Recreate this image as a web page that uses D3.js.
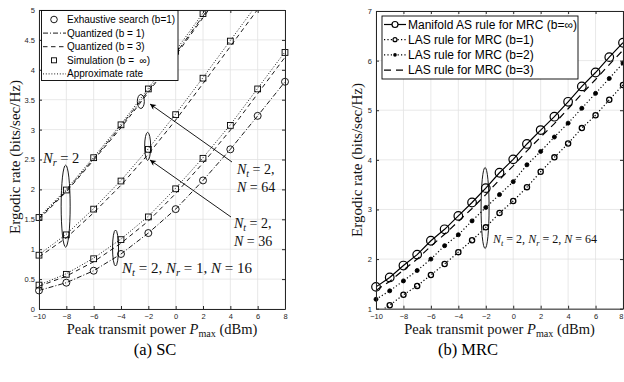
<!DOCTYPE html>
<html><head><meta charset="utf-8">
<script src="https://cdn.jsdelivr.net/npm/d3@7"></script>
<style>body{margin:0;background:#fff} svg{display:block} text{white-space:pre}</style>
</head><body>
<svg id="c" width="624" height="382"></svg>
<script>
// ---------- (a) SC panel data ----------
const scPower = [-10,-8,-6,-4,-2,0,2,4,6,8];
const scTicksX = [-10,-8,-6,-4,-2,0,2,4,6,8];
const scTicksY = [0,0.5,1,1.5,2,2.5,3,3.5,4,4.5,5];
// N_t=2, N_r=1, N=16
const scExhaustN16 = [0.31,0.44,0.64,0.92,1.27,1.67,2.15,2.67,3.23,3.80];
const scQuantB1N16 = [0.31,0.44,0.64,0.92,1.27,1.67,2.15,2.67,3.23,3.80];
const scQuantB3N16 = [0.38,0.55,0.79,1.10,1.47,1.93,2.44,2.99,3.60,4.21];
const scSimN16     = [0.40,0.58,0.84,1.16,1.54,2.01,2.52,3.07,3.68,4.29];
const scApproxN16  = [0.40,0.59,0.85,1.17,1.55,2.02,2.53,3.08,3.69,4.30];
// N_t=2, N_r=2, N=36
const scQuantB3N36 = [0.87,1.19,1.61,2.07,2.59,3.16,3.77,4.39,5.01,5.65];
const scSimN36     = [0.90,1.24,1.67,2.14,2.67,3.25,3.86,4.48,5.10,5.75];
const scApproxN36  = [0.91,1.25,1.68,2.15,2.68,3.26,3.87,4.49,5.11,5.76];
// N_t=2, N_r=2, N=64
const scQuantB1N64 = [1.52,1.98,2.51,3.06,3.65,4.27,4.90,5.53,6.15,6.75];
const scQuantB3N64 = [1.50,1.96,2.49,3.03,3.62,4.24,4.87,5.50,6.10,6.70];
const scSimN64     = [1.53,1.99,2.53,3.08,3.68,4.31,4.94,5.58,6.20,6.80];
const scApproxN64  = [1.54,2.00,2.54,3.09,3.69,4.32,4.95,5.59,6.21,6.81];
const scLegendLabels = ["Exhaustive search (b=1)","Quantized (b = 1)","Quantized (b = 3)","Simulation (b =  \u221E)","Approximate rate"];

// ---------- (b) MRC panel data ----------
const mrcPower = [-10,-9,-8,-7,-6,-5,-4,-3,-2,-1,0,1,2,3,4,5,6,7,8];
const mrcTicksX = [-10,-8,-6,-4,-2,0,2,4,6,8];
const mrcTicksY = [1,2,3,4,5,6,7];
const mrcManifold = [1.44,1.63,1.87,2.09,2.37,2.60,2.87,3.14,3.43,3.74,4.01,4.32,4.60,4.87,5.17,5.48,5.76,6.07,6.36];
const mrcLasB1    = [0.90,1.07,1.28,1.46,1.68,1.90,2.14,2.38,2.64,2.93,3.17,3.45,3.76,4.05,4.33,4.64,4.90,5.21,5.51];
const mrcLasB2    = [1.19,1.36,1.56,1.77,2.00,2.27,2.49,2.77,3.04,3.30,3.56,3.90,4.17,4.46,4.74,5.04,5.34,5.64,5.95];
const mrcLasB3    = [1.37,1.55,1.78,2.00,2.26,2.50,2.76,3.02,3.30,3.60,3.88,4.18,4.46,4.73,5.03,5.33,5.62,5.92,6.21];
const mrcLegendLabels = ["Manifold AS rule for MRC (b=\u221E)","LAS rule for MRC (b=1)","LAS rule for MRC (b=2)","LAS rule for MRC (b=3)"];

// ---------- drawing ----------
const svg = d3.select('#c');
const sans = '"Liberation Sans", Arial, Helvetica, sans-serif';
const serif = '"Liberation Serif", "Times New Roman", serif';
const axisCol = '#262626';

const defs = svg.append('defs');
defs.append('marker').attr('id','ah').attr('viewBox','0 0 10 10').attr('refX',10).attr('refY',5)
  .attr('markerUnits','userSpaceOnUse').attr('markerWidth',8).attr('markerHeight',6).attr('orient','auto')
  .append('path').attr('d','M0,0L10,5L0,10L3,5z').attr('fill','#000');

function addMath(g, x, y, size, parts, anchor, rotate){
  const t = g.append('text').attr('x',x).attr('y',y).attr('font-family',serif)
    .attr('font-size',size).attr('fill','#111').attr('text-anchor',anchor||'start');
  if(rotate) t.attr('transform',`rotate(${rotate},${x},${y})`);
  let sub = false;
  const sh = size*0.22;
  parts.forEach(([s,st])=>{
    const ts = t.append('tspan').text(s);
    const isSub = st==='si'||st==='sr';
    if(isSub && !sub) ts.attr('dy',sh);
    if(!isSub && sub) ts.attr('dy',-sh);
    if(isSub) ts.attr('font-size',size*0.7);
    if(st==='i'||st==='si') ts.attr('font-style','italic');
    sub = isSub;
  });
  return t;
}

function makePanel(cfg){
  const x = d3.scaleLinear().domain(cfg.xDom).range([cfg.left,cfg.right]);
  const y = d3.scaleLinear().domain(cfg.yDom).range([cfg.bottom,cfg.top]);
  const g = svg.append('g');
  const clipId = 'clip'+cfg.id;
  defs.append('clipPath').attr('id',clipId).append('rect')
    .attr('x',cfg.left).attr('y',cfg.top).attr('width',cfg.right-cfg.left).attr('height',cfg.bottom-cfg.top);
  const grid = g.append('g').attr('stroke','#e2e2e2').attr('stroke-width',0.8);
  grid.selectAll('.gx').data(cfg.xTicks).join('line')
    .attr('x1',d=>x(d)).attr('x2',d=>x(d)).attr('y1',cfg.top).attr('y2',cfg.bottom);
  grid.selectAll('.gy').data(cfg.yTicks).join('line')
    .attr('x1',cfg.left).attr('x2',cfg.right).attr('y1',d=>y(d)).attr('y2',d=>y(d));
  const plot = g.append('g');
  const lines = plot.append('g').attr('clip-path',`url(#${clipId})`);
  const marks = plot.append('g');
  return {x,y,g,lines,marks,cfg};
}

function drawAxes(p, fmt){
  const {x,y,g,cfg} = p;
  const style = sel => {
    sel.attr('font-family',sans).attr('font-size',7.5);
    sel.select('.domain').attr('stroke',axisCol).attr('stroke-width',1);
    sel.selectAll('.tick line').attr('stroke',axisCol);
    sel.selectAll('.tick text').attr('fill',axisCol);
  };
  const bx = g.append('g').attr('transform',`translate(0,${cfg.bottom})`)
    .call(d3.axisBottom(x).tickValues(cfg.xTicks).tickSize(-3).tickSizeOuter(0).tickPadding(5)).call(style);
  if(cfg.right > 615){
    bx.selectAll('.tick text').filter(d=>d===cfg.xDom[1]).attr('text-anchor','end').attr('dx',0);
  }
  g.append('g').attr('transform',`translate(0,${cfg.top})`)
    .call(d3.axisTop(x).tickValues(cfg.xTicks).tickSize(-3).tickSizeOuter(0).tickFormat('')).call(style);
  g.append('g').attr('transform',`translate(${cfg.left},0)`)
    .call(d3.axisLeft(y).tickValues(cfg.yTicks).tickSize(-3).tickSizeOuter(0).tickPadding(4).tickFormat(fmt)).call(style);
  g.append('g').attr('transform',`translate(${cfg.right},0)`)
    .call(d3.axisRight(y).tickValues(cfg.yTicks).tickSize(-3).tickSizeOuter(0).tickFormat('')).call(style);
}

function series(p, xs, ys, opt){
  const {x,y,lines,marks,cfg} = p;
  const pts = xs.map((v,i)=>[v,ys[i]]);
  if(opt.dash !== undefined){
    lines.append('path').datum(pts)
      .attr('d',d3.line().x(d=>x(d[0])).y(d=>y(d[1])))
      .attr('fill','none').attr('stroke','#000').attr('stroke-width',opt.lw||0.9)
      .attr('stroke-dasharray',opt.dash||null);
  }
  const inside = pts.filter(d=>d[1]>=cfg.yDom[0] && d[1]<=cfg.yDom[1]);
  if(opt.marker==='circle'||opt.marker==='dot'){
    marks.selectAll(null).data(inside).join('circle')
      .attr('cx',d=>x(d[0])).attr('cy',d=>y(d[1])).attr('r',opt.r)
      .attr('fill',opt.marker==='dot'?'#000':'none').attr('stroke','#000').attr('stroke-width',opt.mlw||0.9);
  } else if(opt.marker==='square'){
    const s = opt.r*2;
    marks.selectAll(null).data(inside).join('rect')
      .attr('x',d=>x(d[0])-s/2).attr('y',d=>y(d[1])-s/2).attr('width',s).attr('height',s)
      .attr('fill','none').attr('stroke','#000').attr('stroke-width',opt.mlw||0.9);
  }
}

// ===== Panel (a) SC =====
const A = makePanel({id:'a',left:39,right:285,top:10,bottom:309,xDom:[-10,8],yDom:[0,5],xTicks:scTicksX,yTicks:scTicksY});
const DOT='1,1.8', DASH='4.5,3.5', DASHDOT='5,2,1,2';
series(A, scPower, scApproxN64, {dash:DOT});
series(A, scPower, scQuantB3N64, {dash:DASH});
series(A, scPower, scQuantB1N64, {dash:DASHDOT});
series(A, scPower, scSimN64, {marker:'square', r:2.9});
series(A, scPower, scApproxN36, {dash:DOT});
series(A, scPower, scQuantB3N36, {dash:DASH});
series(A, scPower, scSimN36, {marker:'square', r:2.9});
series(A, scPower, scApproxN16, {dash:DOT});
series(A, scPower, scQuantB3N16, {dash:DASH});
series(A, scPower, scSimN16, {marker:'square', r:2.9});
series(A, scPower, scQuantB1N16, {dash:DASHDOT});
series(A, scPower, scExhaustN16, {marker:'circle', r:3.5});

// annotations (a)
const annA = A.g.append('g').attr('fill','none').attr('stroke','#000').attr('stroke-width',0.9);
annA.append('ellipse').attr('cx',A.x(-8.05)).attr('cy',A.y(1.72)).attr('rx',4.5).attr('ry',41);
annA.append('ellipse').attr('cx',A.x(-4.4)).attr('cy',A.y(1.02)).attr('rx',3).attr('ry',18);
annA.append('ellipse').attr('cx',A.x(-2.05)).attr('cy',A.y(2.72)).attr('rx',3).attr('ry',14);
annA.append('ellipse').attr('cx',A.x(-2.55)).attr('cy',A.y(3.47)).attr('rx',3.5).attr('ry',7);
annA.append('line').attr('x1',232).attr('y1',162).attr('x2',150).attr('y2',104).attr('marker-end','url(#ah)');
annA.append('line').attr('x1',231).attr('y1',217).attr('x2',150).attr('y2',160).attr('marker-end','url(#ah)');
addMath(A.g, 43, 163, 14.5, [['N','i'],['r','si'],[' = 2','r']]);
addMath(A.g, 122, 273, 15, [['N','i'],['t','si'],[' = 2, ','r'],['N','i'],['r','si'],[' = 1, ','r'],['N','i'],[' = 16','r']]);
addMath(A.g, 237, 174, 14, [['N','i'],['t','si'],[' = 2,','r']]);
addMath(A.g, 237, 192, 14, [['N','i'],[' = 64','r']]);
addMath(A.g, 234, 228, 14, [['N','i'],['t','si'],[' = 2,','r']]);
addMath(A.g, 234, 246, 14, [['N','i'],[' = 36','r']]);

drawAxes(A, d3.format(''));

// legend (a)
const legA = A.g.append('g');
legA.append('rect').attr('x',41.5).attr('y',10.5).attr('width',136.5).attr('height',70)
  .attr('fill','#fff').attr('stroke','#000').attr('stroke-width',0.9);
scLegendLabels.forEach((lab,i)=>{
  const yy = 19.5 + i*13.6;
  legA.append('text').attr('x',67).attr('y',yy+3.5).attr('font-family',sans).attr('font-size',10).attr('fill','#000').text(lab);
  if(i===0) legA.append('circle').attr('cx',54).attr('cy',yy).attr('r',3.3).attr('fill','none').attr('stroke','#000').attr('stroke-width',0.9);
  if(i===3) legA.append('rect').attr('x',51.5).attr('y',yy-2.5).attr('width',5).attr('height',5).attr('fill','none').attr('stroke','#000').attr('stroke-width',0.9);
  const dash = i===1?DASHDOT:i===2?DASH:i===4?DOT:null;
  if(dash) legA.append('line').attr('x1',43).attr('x2',66).attr('y1',yy).attr('y2',yy).attr('stroke','#000').attr('stroke-width',0.9).attr('stroke-dasharray',dash);
});

// axis labels (a)
addMath(svg, 162, 334, 14.5, [['Peak transmit power ','r'],['P','i'],['max','sr'],[' (dBm)','r']], 'middle');
addMath(svg, 20, 157, 15, [['Ergodic rate (bits/sec/Hz)','r']], 'middle', -90);

// ===== Panel (b) MRC =====
const B = makePanel({id:'b',left:376,right:623,top:11,bottom:308.7,xDom:[-10,8],yDom:[1,7],xTicks:mrcTicksX,yTicks:mrcTicksY});
series(B, mrcPower, mrcLasB1, {dash:'1.2,2.2', lw:1.2, marker:'circle', r:2.6, mlw:1.3});
series(B, mrcPower, mrcLasB2, {dash:'1.2,2.2', lw:1.2, marker:'dot', r:2});
series(B, mrcPower, mrcLasB3, {dash:'7,5', lw:1.2});
series(B, mrcPower, mrcManifold, {dash:'', lw:1.2, marker:'circle', r:4.3, mlw:1.2});

const annB = B.g.append('g').attr('fill','none').attr('stroke','#000').attr('stroke-width',0.9);
annB.append('ellipse').attr('cx',B.x(-2.05)).attr('cy',B.y(3.03)).attr('rx',4).attr('ry',40.5);
addMath(B.g, 493, 243, 12, [['N','i'],['t','si'],[' = 2, ','r'],['N','i'],['r','si'],[' = 2, ','r'],['N','i'],[' = 64','r']]);

drawAxes(B, d3.format(''));

const legB = B.g.append('g');
legB.append('rect').attr('x',382).attr('y',16).attr('width',196).attr('height',63)
  .attr('fill','#fff').attr('stroke','#000').attr('stroke-width',0.9);
mrcLegendLabels.forEach((lab,i)=>{
  const yy = 24.5 + i*15.2;
  legB.append('text').attr('x',408).attr('y',yy+4).attr('font-family',sans).attr('font-size',12).attr('fill','#000').text(lab);
  const dash = i===0?null:i===3?'7,5':'1.2,2.2';
  legB.append('line').attr('x1',384).attr('x2',406).attr('y1',yy).attr('y2',yy).attr('stroke','#000').attr('stroke-width',1.2).attr('stroke-dasharray',dash);
  if(i===0) legB.append('circle').attr('cx',395).attr('cy',yy).attr('r',3).attr('fill','#fff').attr('stroke','#000').attr('stroke-width',1.2);
  if(i===1) legB.append('circle').attr('cx',395).attr('cy',yy).attr('r',2).attr('fill','#fff').attr('stroke','#000').attr('stroke-width',1.2);
  if(i===2) legB.append('circle').attr('cx',395).attr('cy',yy).attr('r',1.8).attr('fill','#000');
});

addMath(svg, 499.5, 334, 14.5, [['Peak transmit power ','r'],['P','i'],['max','sr'],[' (dBm)','r']], 'middle');
addMath(svg, 362, 160, 15, [['Ergodic rate (bits/sec/Hz)','r']], 'middle', -90);

// captions
svg.append('text').attr('x',155).attr('y',355).attr('text-anchor','middle').attr('font-family',serif).attr('font-size',16.5).text('(a) SC');
svg.append('text').attr('x',468).attr('y',355).attr('text-anchor','middle').attr('font-family',serif).attr('font-size',16.5).text('(b) MRC');
</script>
</body></html>
